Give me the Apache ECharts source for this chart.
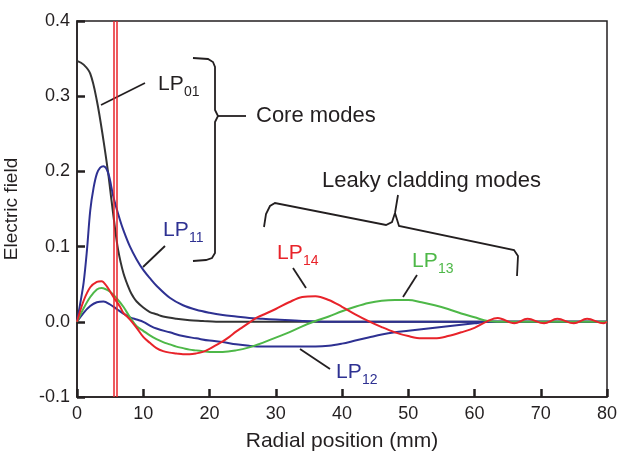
<!DOCTYPE html>
<html>
<head>
<meta charset="utf-8">
<script src="https://cdn.jsdelivr.net/npm/echarts/dist/echarts.min.js"></script>
<style>
  html, body { margin: 0; padding: 0; background: #fff; }
  #chart { width: 617px; height: 451px; }
</style>
</head>
<body>
<div id="chart"></div>
<script>
// field profiles, [radial position (mm), electric field]
const lp01 = [[0,0.347],[1,0.342],[2,0.33],[3,0.294],[4,0.241],[4.7,0.198],[5.2,0.162],[5.7,0.127],[6.2,0.096],[7,0.065],[8,0.041],[8.5,0.033],[9,0.027],[10,0.019],[11,0.013],[12,0.01],[13,0.007],[15,0.004],[17,0.002],[19,0.001],[21,0],[30,0],[50,0],[80,0]];
const lp11 = [[0,0],[0.5,0.025],[1,0.052],[1.5,0.095],[2,0.148],[2.5,0.178],[3,0.197],[3.5,0.205],[4,0.207],[4.7,0.198],[5.5,0.166],[6.5,0.135],[7,0.122],[8,0.1],[9,0.083],[10,0.069],[11,0.058],[12,0.048],[14,0.032],[16,0.022],[18,0.016],[20,0.012],[22,0.009],[24,0.007],[26,0.005],[28,0.004],[30,0.003],[34,0.001],[38,0],[60,0],[80,0]];
const lp12 = [[0,0],[1,0.012],[2,0.021],[3,0.026],[4,0.027],[5,0.023],[6,0.017],[7,0.011],[8,0.006],[9,0.003],[10,0],[11,-0.005],[12,-0.009],[14,-0.014],[16,-0.019],[18,-0.022],[20,-0.025],[22,-0.027],[24,-0.03],[26,-0.032],[28,-0.033],[32,-0.033],[36,-0.033],[38,-0.032],[40,-0.029],[42,-0.025],[44,-0.021],[46,-0.017],[48,-0.014],[50,-0.012],[52,-0.01],[54,-0.008],[56,-0.006],[58,-0.004],[60,-0.002],[62,0],[70,0],[80,0]];
const lp13 = [[0,0],[1,0.018],[2,0.033],[3,0.043],[3.7,0.045],[5,0.04],[6,0.031],[7,0.02],[8,0.006],[9,-0.006],[10,-0.012],[11,-0.018],[12,-0.023],[13,-0.027],[14,-0.03],[15,-0.033],[16,-0.035],[17,-0.037],[18,-0.038],[19,-0.039],[20,-0.04],[22,-0.04],[24,-0.038],[26,-0.034],[28,-0.028],[30,-0.021],[32,-0.014],[34,-0.006],[36,0.001],[38,0.007],[40,0.014],[42,0.02],[44,0.025],[46,0.028],[48,0.029],[50,0.029],[52,0.026],[54,0.022],[56,0.017],[58,0.011],[60,0.006],[62,0.001],[64,0],[72,0],[80,0]];
const lp14 = [[0,0],[1,0.028],[2,0.046],[3,0.053],[3.7,0.054],[4.5,0.047],[5.5,0.033],[6.5,0.02],[7,0.012],[8,0.003],[9,-0.008],[10,-0.02],[11,-0.028],[12,-0.035],[13,-0.039],[14,-0.041],[15,-0.042],[16,-0.043],[17,-0.043],[18,-0.042],[19,-0.04],[20,-0.036],[21,-0.031],[22,-0.026],[23,-0.02],[24,-0.013],[25,-0.007],[26,-0.001],[27,0.005],[28,0.009],[30,0.017],[32,0.026],[34,0.033],[36,0.034],[38,0.029],[40,0.02],[42,0.01],[44,0.001],[46,-0.007],[48,-0.014],[50,-0.019],[52,-0.022],[54,-0.022],[56,-0.019],[58,-0.014],[60,-0.008],[62,0.001],[63.5,0.005],[66,-0.002],[68,0.004],[70.5,-0.002],[72.5,0.004],[75,-0.002],[77,0.004],[79.5,-0.002],[80,0]];
// core boundary lines
const coreEdges = [5.5, 5.95];
const xTicks = { min: 0, max: 80, step: 10 };
const yTicks = { min: -0.1, max: 0.4, step: 0.1 };

const FONT = '"Liberation Sans", Arial, Helvetica, sans-serif';
const BLACK = '#231f20';
const BLUE = '#2e3192';
const GREEN = '#4eb848';
const RED = '#e8232a';

const chart = echarts.init(document.getElementById('chart'));

function line(data, color, z) {
  return {
    type: 'line', data: data, showSymbol: false, smooth: 0.35, z: z,
    lineStyle: { color: color, width: 2 },
    itemStyle: { color: color },
    silent: true, animation: false
  };
}

function modeLabel(x, y, sub, color) {
  return [
    { type: 'text', x: x, y: y, silent: true,
      style: { text: 'LP', fontSize: 21, fontFamily: FONT, fill: color, verticalAlign: 'middle' } },
    { type: 'text', x: x + 26, y: y + 8, silent: true,
      style: { text: sub, fontSize: 14, fontFamily: FONT, fill: color, verticalAlign: 'middle' } }
  ];
}

function stroke(points) {
  return { type: 'polyline', silent: true, shape: { points: points },
    style: { stroke: BLACK, lineWidth: 1.8, fill: null } };
}

const series = [
  line(lp01, '#333333', 2),
  line(lp11, BLUE, 3),
  line(lp12, BLUE, 3),
  line(lp13, GREEN, 4),
  line(lp14, RED, 5)
];
series[0].markLine = {
  silent: true, symbol: 'none', animation: false,
  label: { show: false },
  lineStyle: { color: RED, width: 1.5, type: 'solid' },
  data: coreEdges.map(v => ({ xAxis: v }))
};

chart.setOption({
  backgroundColor: '#fff',
  animation: false,
  grid: { left: 77, right: 10, top: 21, bottom: 54, show: true, borderColor: BLACK, borderWidth: 1.5,
    containLabel: false, outerBoundsMode: 'none' },
  xAxis: {
    type: 'value', min: xTicks.min, max: xTicks.max, interval: xTicks.step,
    name: 'Radial position (mm)', nameLocation: 'middle', nameGap: 34,
    nameTextStyle: { fontSize: 21, fontFamily: FONT, color: BLACK },
    axisLine: { onZero: false, lineStyle: { color: BLACK, width: 1.5 } },
    axisTick: { inside: true, length: 8, lineStyle: { color: BLACK, width: 2.5 } },
    axisLabel: { fontSize: 18, fontFamily: FONT, color: BLACK, margin: 8 },
    splitLine: { show: false }
  },
  yAxis: {
    type: 'value', min: yTicks.min, max: yTicks.max, interval: yTicks.step,
    name: 'Electric field', nameLocation: 'middle', nameGap: 56,
    nameTextStyle: { fontSize: 19, fontFamily: FONT, color: BLACK },
    axisLine: { onZero: false, lineStyle: { color: BLACK, width: 1.5 } },
    axisTick: { inside: true, length: 8, lineStyle: { color: BLACK, width: 2.5 } },
    axisLabel: { fontSize: 18, fontFamily: FONT, color: BLACK, margin: 7,
      formatter: v => v.toFixed(1) },
    splitLine: { show: false }
  },
  series: series,
  graphic: [].concat(
    modeLabel(158, 84, '01', BLACK),
    modeLabel(163, 230, '11', BLUE),
    modeLabel(277, 253, '14', RED),
    modeLabel(412, 261, '13', GREEN),
    modeLabel(336, 372, '12', BLUE),
    [
      stroke([[101, 105], [145, 83]]),
      stroke([[143, 267], [165, 246]]),
      stroke([[293, 268], [306, 288]]),
      stroke([[417, 275], [403, 297]]),
      stroke([[300, 349], [330, 369]]),
      stroke([[193, 58], [208, 59], [213, 62], [215, 67], [215, 110], [218, 116], [215, 122], [215, 253], [212, 258], [206, 260], [193, 261]]),
      stroke([[218, 116], [246, 116]]),
      stroke([[264, 227], [266, 214], [270, 206], [275, 203], [386, 225], [392, 222], [395, 213], [398, 195]]),
      stroke([[395, 213], [399, 226], [514, 250], [518, 256], [517, 276]]),
      { type: 'text', x: 256, y: 116, silent: true,
        style: { text: 'Core modes', fontSize: 22, fontFamily: FONT, fill: BLACK, verticalAlign: 'middle' } },
      { type: 'text', x: 322, y: 181, silent: true,
        style: { text: 'Leaky cladding modes', fontSize: 22, fontFamily: FONT, fill: BLACK, verticalAlign: 'middle' } }
    ]
  )
});
</script>
</body>
</html>
